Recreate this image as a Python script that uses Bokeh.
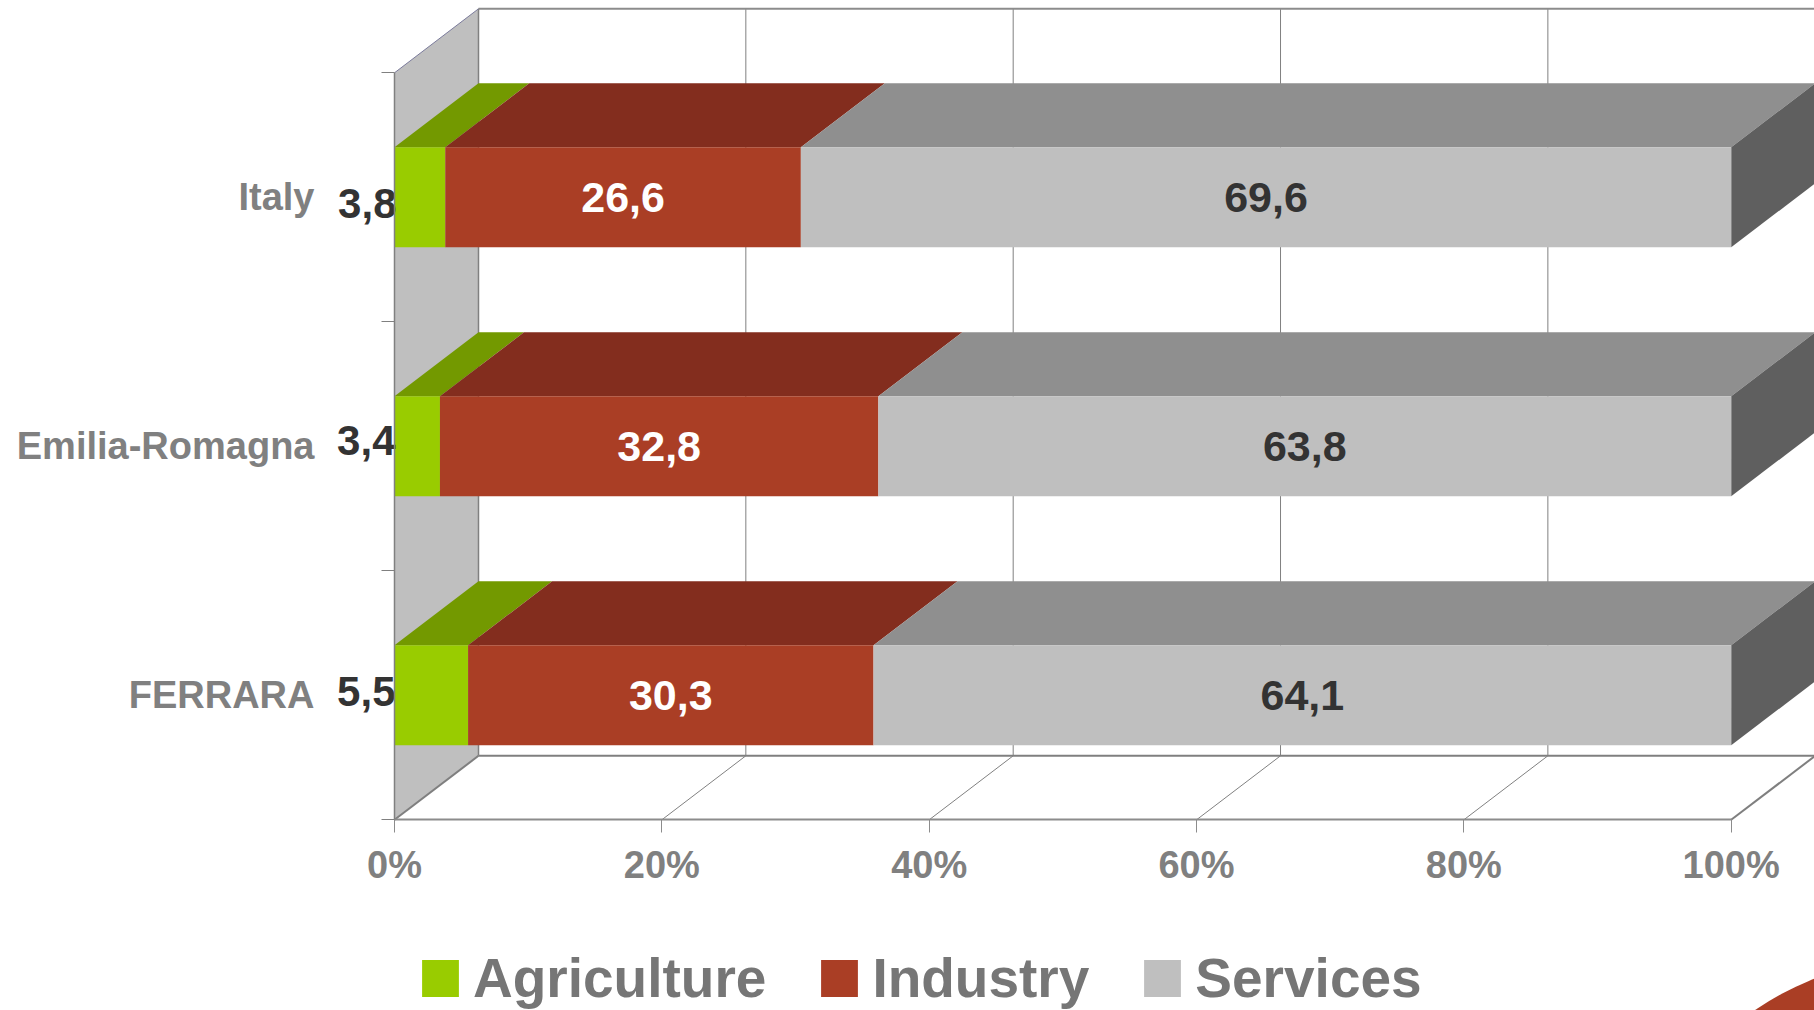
from bokeh.plotting import figure
from bokeh.models import Range1d, LinearAxis, FixedTicker, Legend, LegendItem
from bokeh.core.properties import value
from bokeh.embed import file_html
from bokeh.resources import INLINE

categories = ["FERRARA", "Emilia-Romagna", "Italy"]
agriculture = [5.5, 3.4, 3.8]
industry = [30.3, 32.8, 26.6]
services = [64.1, 63.8, 69.6]
x_ticks = [0, 20, 40, 60, 80, 100]

FONT = "Liberation Sans"
W, H = 1814, 1010
PX_X, PX_Y = 13.367, 249.0      # pixels per percent / per category
X0, Y0 = 394.0, 819.3           # front-plane origin inside the figure
DX, DY = 84 / PX_X, 64 / PX_Y   # 3D depth in data units
BAR = 100 / PX_Y
GRID = "#808080"

p = figure(width=W, height=H, output_backend="svg", toolbar_location=None,
           x_axis_location=None, y_axis_location=None, min_border=0,
           x_range=Range1d(-X0 / PX_X, (W - X0) / PX_X),
           y_range=Range1d((Y0 - H) / PX_Y, Y0 / PX_Y))
p.grid.visible = False
p.outline_line_color = None
p.background_fill_color = "white"

n = len(categories)
ypos = [i + 0.5 for i in range(n)]

# walls and floor
p.patch([0, DX, DX, 0], [0, DY, n + DY, n], fill_color="#BFBFBF", line_color=None)
p.multi_line([[t + DX, t + DX] for t in x_ticks[1:]], [[DY, n + DY] for _ in x_ticks[1:]],
             line_color=GRID, line_width=1)
p.multi_line([[t, t + DX] for t in x_ticks[1:-1]], [[0, DY] for _ in x_ticks[1:-1]],
             line_color=GRID, line_width=1)
p.line([100, 100 + DX], [0, DY], line_color="#7F7F7F", line_width=2)
p.line([0, DX], [0, DY], line_color="#7F7F7F", line_width=2)
p.line([DX, 100 + DX], [DY, DY], line_color="#7F7F7F", line_width=2)
p.line([DX, 100 + DX], [n + DY, n + DY], line_color="#8C8C8C", line_width=2)
p.line([DX, DX], [DY, n + DY], line_color="#808080", line_width=1.5)
p.line([0, DX], [n, n + DY], line_color="#7C7C9C", line_width=1)

# bars (100 % stacked: each row is scaled to its own total)
totals = [a + b + c for a, b, c in zip(agriculture, industry, services)]
series = [("Agriculture", agriculture, "#99CC00", "#739900"),
          ("Industry", industry, "#AA3E25", "#832D1E"),
          ("Services", services, "#BFBFBF", "#8F8F8F")]
left = [0.0] * n
items = []
for name, vals, front, top in series:
    right = [a + b / t * 100 for a, b, t in zip(left, vals, totals)]
    xs = [[l, r, r + DX, l + DX] for l, r in zip(left, right)]
    ys = [[y + BAR / 2, y + BAR / 2, y + BAR / 2 + DY, y + BAR / 2 + DY] for y in ypos]
    p.patches(xs, ys, fill_color=top, line_color=None)
    if name == "Services":
        sx = [[r, r + DX, r + DX, r] for r in right]
        sy = [[y - BAR / 2, y - BAR / 2 + DY, y + BAR / 2 + DY, y + BAR / 2] for y in ypos]
        p.patches(sx, sy, fill_color="#5F5F5F", line_color=None)
    rend = p.hbar(y=ypos, left=left, right=right, height=BAR, fill_color=front, line_color=None)
    items.append(LegendItem(label=name, renderers=[rend]))
    # value labels
    if name == "Agriculture":
        p.text([0] * n, ypos, text=[f"{v:.1f}".replace(".", ",") for v in vals],
               x_offset=[1, 1, 2], y_offset=[-4, -6, 6],
               text_align="right", text_baseline="middle", text_color="#333333",
               text_font=value(FONT), text_font_style="bold", text_font_size="42px")
    else:
        p.text([(l + r) / 2 for l, r in zip(left, right)], ypos,
               text=[f"{v:.1f}".replace(".", ",") for v in vals],
               text_align="center", text_baseline="middle",
               text_color="white" if name == "Industry" else "#333333",
               text_font=value(FONT), text_font_style="bold", text_font_size="43px")
    left = right

# decorative arc, bottom right corner
p.circle([114.4], [-1.76], radius=22.44, radius_dimension="x",
         fill_color="#AA3E25", line_color=None)

# axes
xax = LinearAxis(fixed_location=0, ticker=FixedTicker(ticks=x_ticks), bounds=(0, 100))
xax.major_label_overrides = {t: f"{t}%" for t in x_ticks}
xax.axis_line_color = "#8C8C8C"
xax.axis_line_width = 2
xax.major_tick_line_color = "#8C8C8C"
xax.major_tick_in = 0
xax.major_tick_out = 13
xax.minor_tick_line_color = None
xax.major_label_standoff = 11
xax.major_label_text_font = FONT
xax.major_label_text_font_style = "bold"
xax.major_label_text_font_size = "38px"
xax.major_label_text_color = "#808080"
p.add_layout(xax, "below")

yax = LinearAxis(fixed_location=0,
                 ticker=FixedTicker(ticks=ypos, minor_ticks=list(range(n + 1))),
                 bounds=(0, n))
yax.major_label_overrides = {y: c for y, c in zip(ypos, categories)}
yax.axis_line_color = "#808080"
yax.axis_line_width = 1.5
yax.major_tick_line_color = None
yax.major_tick_in = 0
yax.major_tick_out = 0
yax.minor_tick_line_color = "#808080"
yax.minor_tick_in = 0
yax.minor_tick_out = 13
yax.major_label_standoff = 67
yax.major_label_text_font = FONT
yax.major_label_text_font_style = "bold"
yax.major_label_text_font_size = "38px"
yax.major_label_text_color = "#808080"
p.add_layout(yax, "left")

legend = Legend(items=items, orientation="horizontal", location=(417, 0),
                background_fill_alpha=0, border_line_color=None, margin=0, padding=0,
                glyph_width=46, glyph_height=46, label_standoff=10, spacing=50,
                label_text_font=FONT, label_text_font_style="bold",
                label_text_font_size="55px", label_text_color="#767676")
p.add_layout(legend, "center")

open("out.html", "w").write(file_html(p, INLINE))
